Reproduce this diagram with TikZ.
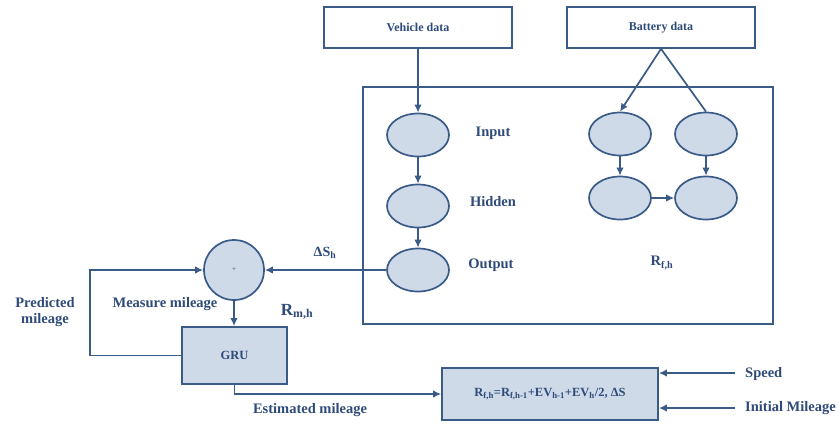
\documentclass[tikz,border=0pt]{standalone}
\usepackage{fontspec}
\setmainfont{Liberation Serif}
\usetikzlibrary{shapes.geometric,arrows.meta}
\definecolor{ln}{HTML}{3A5A88}
\definecolor{fl}{HTML}{CFDAE8}
\definecolor{tx}{HTML}{2E4A78}
\tikzset{
  lw/.style={line width=1.7pt, draw=ln},
  arr/.style={lw, -{Latex[length=8pt,width=7.5pt]}},
  databox/.style={lw, rectangle, fill=white, minimum width=188pt, minimum height=41pt, font=\fontsize{12}{13}\selectfont\bfseries, text=tx},
  ell/.style={lw, ellipse, fill=fl, minimum width=62pt, minimum height=43pt, inner sep=0pt},
  lbl/.style={font=\fontsize{14.5}{16}\selectfont\bfseries, text=tx, inner sep=0pt},
  slbl/.style={font=\fontsize{14}{15}\selectfont\bfseries, text=tx, inner sep=0pt},
  procbox/.style={lw, rectangle, fill=fl, text=tx, inner sep=0pt}
}
\begin{document}
\begin{tikzpicture}[x=1pt,y=-1pt]
\useasboundingbox (0,0) rectangle (840,423);
% boxes
\node[databox] (veh) at (418,27.5) {Vehicle data};
\node[databox] (bat) at (661,27.5) {Battery data};
\node[lw, rectangle, minimum width=410pt, minimum height=237pt, inner sep=0pt] (big) at (568,205.5) {};
% ellipses
\node[ell] (in) at (418,135) {};
\node[ell] (hid) at (418,206) {};
\node[ell] (out) at (418,270) {};
\node[ell] (r1) at (620,134) {};
\node[ell] (r2) at (706,134) {};
\node[ell] (r3) at (620,198) {};
\node[ell] (r4) at (706,198) {};
% sum circle and GRU
\node[lw, circle, fill=fl, minimum size=60pt, inner sep=0pt, text=tx, font=\scriptsize] (sum) at (234,270) {+};
\node[procbox, minimum width=105pt, minimum height=57pt, font=\fontsize{12.5}{13}\selectfont\bfseries] (gru) at (234.5,355.5) {GRU};
\node[procbox, minimum width=216pt, minimum height=52pt, font=\fontsize{12.5}{13}\selectfont\bfseries] (form) at (550,394) {R\textsubscript{f,h}=R\textsubscript{f,h-1}+EV\textsubscript{h-1}+EV\textsubscript{h}/2, ΔS};
% labels
\node[lbl] (tin) at (493,133) {Input};
\node[lbl] (thid) at (493,202) {Hidden};
\node[lbl] (tout) at (491,265) {Output};
\node[lbl] (trf) at (662,263) {R\textsubscript{f,h}};
\node[slbl] (tds) at (325,253) {ΔS\textsubscript{h}};
\node[lbl, font=\fontsize{17}{18}\selectfont\bfseries] (trm) at (297,312) {R\textsubscript{m,h}};
\node[lbl, align=center] (tpred) at (45,312) {Predicted\\mileage};
\node[lbl] (tmeas) at (165,304) {Measure mileage};
\node[lbl] (test) at (310,410) {Estimated mileage};
\node[lbl, anchor=west] (tspeed) at (745,374) {Speed};
\node[lbl, anchor=west] (tinit) at (745,408) {Initial Mileage};
% coordinates
\coordinate (fb) at (90,355.5);
\coordinate (sp) at (735,373);
\coordinate (im) at (735,408);
% connectors
\draw[arr] (veh.south) -- (in.north);
\draw[arr] (bat.south) -- (r1.north);
\draw[lw] (bat.south) -- (r2.north);
\draw[arr] (in) -- (hid);
\draw[arr] (hid) -- (out);
\draw[arr] (r1) -- (r3);
\draw[arr] (r2) -- (r4);
\draw[arr] (r3) -- (r4);
\draw[arr] (out.west) -- (sum.east);
\draw[arr] (sum.south) -- (gru.north -| sum.south);
\draw[arr] (gru.west) -- (fb) |- (sum.west);
\draw[arr] (gru.south) |- (form.west);
\draw[arr] (sp) -- (form.east |- sp);
\draw[arr] (im) -- (form.east |- im);
\end{tikzpicture}
\end{document}
